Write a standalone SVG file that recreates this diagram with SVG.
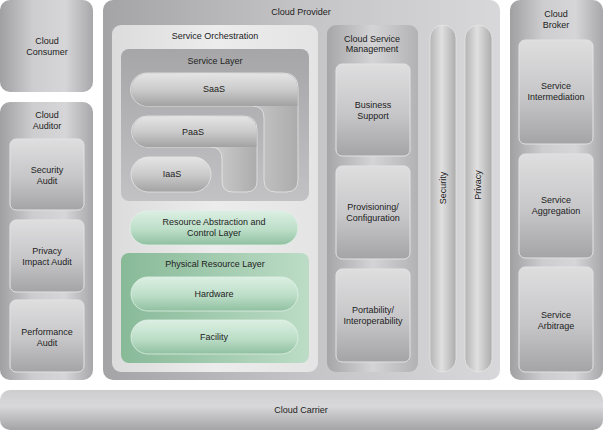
<svg xmlns="http://www.w3.org/2000/svg" width="603" height="430" viewBox="0 0 603 430">
<defs>
<linearGradient id="gOuter" x1="0" y1="0" x2="1" y2="0">
<stop offset="0" stop-color="#a0a0a2"/><stop offset="0.35" stop-color="#cdcdcf"/><stop offset="0.7" stop-color="#d6d6d8"/><stop offset="1" stop-color="#a8a8aa"/>
</linearGradient>
<linearGradient id="gProv" x1="0" y1="0" x2="1" y2="0">
<stop offset="0" stop-color="#a4a4a6"/><stop offset="0.5" stop-color="#c4c4c6"/><stop offset="1" stop-color="#d8d8da"/>
</linearGradient>
<linearGradient id="gCard" x1="0" y1="0" x2="0" y2="1">
<stop offset="0" stop-color="#dededf"/><stop offset="0.55" stop-color="#c6c6c8"/><stop offset="1" stop-color="#a4a4a6"/>
</linearGradient>
<linearGradient id="gPill" x1="0" y1="0" x2="0" y2="1">
<stop offset="0" stop-color="#e4e4e4"/><stop offset="0.5" stop-color="#cbcbcb"/><stop offset="1" stop-color="#a2a2a2"/>
</linearGradient>
<linearGradient id="gPillH" x1="0" y1="0" x2="1" y2="0">
<stop offset="0" stop-color="#b4b4b4"/><stop offset="0.45" stop-color="#e0e0e0"/><stop offset="1" stop-color="#acacac"/>
</linearGradient>
<linearGradient id="gSL" x1="0" y1="0" x2="0" y2="1">
<stop offset="0" stop-color="#a6a6a8"/><stop offset="1" stop-color="#c2c2c4"/>
</linearGradient>
<linearGradient id="gSO" x1="0" y1="0" x2="1" y2="0">
<stop offset="0" stop-color="#dcdcdd"/><stop offset="0.5" stop-color="#ececec"/><stop offset="1" stop-color="#e4e4e5"/>
</linearGradient>
<linearGradient id="gCSM" x1="0" y1="0" x2="1" y2="0">
<stop offset="0" stop-color="#a6a6a8"/><stop offset="0.5" stop-color="#d4d4d6"/><stop offset="1" stop-color="#b2b2b4"/>
</linearGradient>
<linearGradient id="gGreen" x1="0" y1="0" x2="0" y2="1">
<stop offset="0" stop-color="#dbefe2"/><stop offset="0.55" stop-color="#bcdec8"/><stop offset="1" stop-color="#90c0a0"/>
</linearGradient>
<linearGradient id="gPRL" x1="0" y1="0" x2="1" y2="0">
<stop offset="0" stop-color="#88ba98"/><stop offset="1" stop-color="#bcdcc6"/>
</linearGradient>
<linearGradient id="gCarrier" x1="0" y1="0" x2="0" y2="1">
<stop offset="0" stop-color="#cdcdcf"/><stop offset="0.4" stop-color="#d8d8da"/><stop offset="1" stop-color="#a4a4a6"/>
</linearGradient>
<style>
text{font-family:"Liberation Sans",Arial,sans-serif;font-size:9px;fill:#222;text-anchor:middle}
.outer{fill:url(#gOuter)}
.card{fill:url(#gCard);stroke:#e2e2e4;stroke-width:1}
.pill{fill:url(#gPill);stroke:#e6e6e6;stroke-width:0.8}
.pillh{fill:url(#gPillH);stroke:#e6e6e6;stroke-width:0.8}
.green{fill:url(#gGreen);stroke:#e0f0e6;stroke-width:0.8}
</style>
</defs>
<rect width="603" height="430" fill="#ffffff"/>

<g id="cloud-consumer">
<rect class="outer" x="0" y="0" width="93" height="92" rx="10"/>
<text x="47" y="44">Cloud</text><text x="47" y="55">Consumer</text>
</g>

<g id="cloud-auditor">
<rect class="outer" x="0" y="102" width="93" height="278" rx="10"/>
<text x="47" y="118">Cloud</text><text x="47" y="129">Auditor</text>
</g>
<g id="security-audit">
<rect class="card" x="10" y="139" width="74" height="71" rx="6"/>
<text x="47" y="173">Security</text><text x="47" y="184">Audit</text>
</g>
<g id="privacy-impact-audit">
<rect class="card" x="10" y="220" width="74" height="72" rx="6"/>
<text x="47" y="254">Privacy</text><text x="47" y="265">Impact Audit</text>
</g>
<g id="performance-audit">
<rect class="card" x="10" y="300" width="74" height="72" rx="6"/>
<text x="47" y="335">Performance</text><text x="47" y="346">Audit</text>
</g>

<g id="cloud-provider">
<rect fill="url(#gProv)" x="103" y="0" width="397" height="380" rx="10"/>
<text x="301" y="15">Cloud Provider</text>
</g>
<g id="service-orchestration">
<rect fill="url(#gSO)" x="112" y="25" width="206" height="347" rx="9"/>
<text x="215" y="39">Service Orchestration</text>
</g>
<g id="service-layer">
<rect fill="url(#gSL)" x="121" y="49" width="188" height="152" rx="8"/>
<text x="215" y="64">Service Layer</text>
</g>
<g id="saas">
<path class="pillh" d="M147 73 H283 Q298 73 298 88 V180 Q298 192 286 192 H276 Q264 192 264 180 V118 Q264 106 252 106 H147 A16.5 16.5 0 0 1 147 73 Z"/>
<path fill="url(#gPill)" d="M147.5 73.5 H282 Q297.5 73.5 297.5 89 V106 H147.5 A16.25 16.25 0 0 1 147.5 73.5 Z"/>
<text x="214" y="92">SaaS</text>
</g>
<g id="paas">
<path class="pillh" d="M147 116 H243 Q257 116 257 130 V181 Q257 192 246 192 H233 Q222 192 222 181 V159 Q222 147 210 147 H147 A15.5 15.5 0 0 1 147 116 Z"/>
<path fill="url(#gPill)" d="M147.5 116.5 H242 Q256.5 116.5 256.5 131 V147 H147.5 A15.25 15.25 0 0 1 147.5 116.5 Z"/>
<text x="193" y="135">PaaS</text>
</g>
<g id="iaas">
<rect class="pill" x="131" y="157" width="80" height="35" rx="17.5"/>
<text x="172" y="177">IaaS</text>
</g>
<g id="resource-abstraction">
<rect class="green" x="130" y="211" width="168" height="34" rx="17"/>
<text x="214" y="225">Resource Abstraction and</text><text x="214" y="236">Control Layer</text>
</g>
<g id="physical-resource-layer">
<rect fill="url(#gPRL)" x="121" y="253" width="188" height="110" rx="8"/>
<text x="215" y="267">Physical Resource Layer</text>
</g>
<g id="hardware">
<rect class="green" x="131" y="277" width="167" height="34" rx="17"/>
<text x="214" y="297">Hardware</text>
</g>
<g id="facility">
<rect class="green" x="131" y="320" width="167" height="34" rx="17"/>
<text x="214" y="340">Facility</text>
</g>

<g id="cloud-service-management">
<rect fill="url(#gCSM)" x="327" y="25" width="91" height="347" rx="9"/>
<text x="372" y="42">Cloud Service</text><text x="372" y="52">Management</text>
</g>
<g id="business-support">
<rect class="card" x="336" y="64" width="74" height="92" rx="6"/>
<text x="373" y="108">Business</text><text x="373" y="119">Support</text>
</g>
<g id="provisioning">
<rect class="card" x="336" y="166" width="74" height="93" rx="6"/>
<text x="373" y="210">Provisioning/</text><text x="373" y="221">Configuration</text>
</g>
<g id="portability">
<rect class="card" x="336" y="269" width="74" height="93" rx="6"/>
<text x="373" y="313">Portability/</text><text x="373" y="324">Interoperability</text>
</g>
<g id="security">
<rect class="pillh" x="430" y="25" width="26" height="347" rx="13"/>
<text transform="translate(446 188) rotate(-90)">Security</text>
</g>
<g id="privacy">
<rect class="pillh" x="465" y="25" width="27" height="347" rx="13.5"/>
<text transform="translate(481 185) rotate(-90)">Privacy</text>
</g>

<g id="cloud-broker">
<rect class="outer" x="510" y="0" width="93" height="380" rx="10"/>
<text x="556" y="17">Cloud</text><text x="556" y="28">Broker</text>
</g>
<g id="service-intermediation">
<rect class="card" x="519" y="40" width="74" height="104" rx="6"/>
<text x="556" y="89">Service</text><text x="556" y="100">Intermediation</text>
</g>
<g id="service-aggregation">
<rect class="card" x="519" y="154" width="74" height="104" rx="6"/>
<text x="556" y="203">Service</text><text x="556" y="214">Aggregation</text>
</g>
<g id="service-arbitrage">
<rect class="card" x="519" y="267" width="74" height="105" rx="6"/>
<text x="556" y="318">Service</text><text x="556" y="329">Arbitrage</text>
</g>

<g id="cloud-carrier">
<rect fill="url(#gCarrier)" x="0" y="390" width="603" height="40" rx="10"/>
<text x="301" y="413">Cloud Carrier</text>
</g>
<g id="connectors"/>
</svg>
